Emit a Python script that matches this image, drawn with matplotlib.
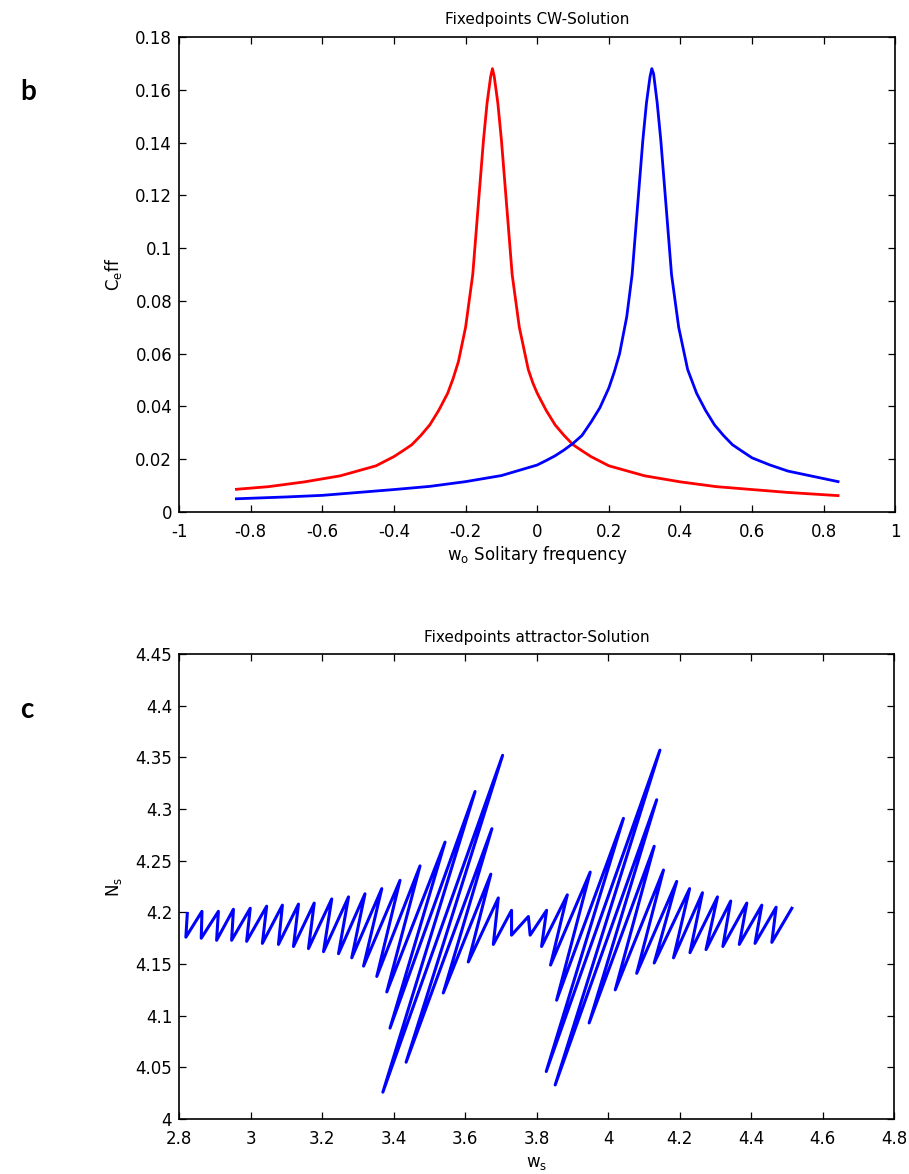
# %% Imports

import matplotlib
matplotlib.use("Agg")
import matplotlib.pyplot as plt


# %% Data

# panel b: CW fixed points, C_eff versus solitary frequency w_o
red_w = [-0.84, -0.75, -0.65, -0.55, -0.45, -0.40, -0.375, -0.35, -0.325, -0.30,
         -0.275, -0.25, -0.235, -0.22, -0.20, -0.18, -0.165, -0.15, -0.14, -0.13,
         -0.125, -0.12, -0.11, -0.10, -0.085, -0.07, -0.05, -0.025, -0.0125, 0.0,
         0.025, 0.05, 0.075, 0.10, 0.125, 0.15, 0.20, 0.30, 0.40, 0.50,
         0.60, 0.70, 0.84]
red_c = [0.0086, 0.0096, 0.0114, 0.0137, 0.0175, 0.0210, 0.0232, 0.0255, 0.0290, 0.0330,
         0.0385, 0.0450, 0.0505, 0.0570, 0.0700, 0.0900, 0.1156, 0.1410, 0.1550, 0.1650,
         0.1680, 0.1650, 0.1550, 0.1410, 0.1156, 0.0900, 0.0700, 0.0540, 0.0490, 0.0450,
         0.0385, 0.0330, 0.0290, 0.0255, 0.0232, 0.0210, 0.0175, 0.0137, 0.0114, 0.0096,
         0.0085, 0.0074, 0.0062]

blue_w = [-0.84, -0.70, -0.60, -0.50, -0.40, -0.30, -0.20, -0.10, 0.0, 0.025,
          0.05, 0.075, 0.10, 0.125, 0.15, 0.175, 0.20, 0.215, 0.23, 0.25,
          0.265, 0.28, 0.295, 0.305, 0.315, 0.32, 0.325, 0.335, 0.345, 0.36,
          0.375, 0.395, 0.42, 0.445, 0.47, 0.495, 0.52, 0.545, 0.57, 0.60,
          0.65, 0.70, 0.84]
blue_c = [0.0050, 0.0057, 0.0063, 0.0074, 0.0085, 0.0097, 0.0115, 0.0138, 0.0178, 0.0195,
          0.0213, 0.0235, 0.0260, 0.0290, 0.0340, 0.0395, 0.0470, 0.0530, 0.0600, 0.0740,
          0.0900, 0.1156, 0.1410, 0.1550, 0.1650, 0.1680, 0.1660, 0.1550, 0.1410, 0.1156,
          0.0900, 0.0700, 0.0540, 0.0450, 0.0385, 0.0330, 0.0290, 0.0255, 0.0232, 0.0205,
          0.0178, 0.0155, 0.0115]

# panel c: attractor, turning points of the trajectory in order (w_s, N_s)
attr_w = [2.823, 2.819, 2.864, 2.862, 2.910, 2.905, 2.952, 2.947, 2.999, 2.989,
          3.045, 3.033, 3.089, 3.078, 3.134, 3.120, 3.178, 3.162, 3.227, 3.204,
          3.274, 3.246, 3.320, 3.283, 3.367, 3.316, 3.418, 3.353, 3.474, 3.381,
          3.544, 3.390, 3.628, 3.370, 3.705, 3.435, 3.675, 3.539, 3.672, 3.609,
          3.693, 3.679, 3.730, 3.730, 3.777, 3.782, 3.828, 3.814, 3.886, 3.839,
          3.950, 3.856, 4.043, 3.827, 4.145, 3.852, 4.136, 3.947, 4.129, 4.020,
          4.155, 4.080, 4.192, 4.129, 4.228, 4.183, 4.264, 4.229, 4.306, 4.274,
          4.343, 4.321, 4.388, 4.367, 4.430, 4.411, 4.470, 4.458, 4.514]
attr_n = [4.199, 4.176, 4.201, 4.175, 4.201, 4.173, 4.203, 4.173, 4.204, 4.172,
          4.206, 4.170, 4.207, 4.169, 4.208, 4.167, 4.209, 4.165, 4.213, 4.162,
          4.215, 4.160, 4.218, 4.156, 4.223, 4.148, 4.231, 4.138, 4.245, 4.123,
          4.268, 4.088, 4.317, 4.026, 4.352, 4.055, 4.281, 4.122, 4.237, 4.152,
          4.214, 4.169, 4.202, 4.178, 4.196, 4.178, 4.202, 4.167, 4.217, 4.149,
          4.239, 4.115, 4.291, 4.046, 4.357, 4.033, 4.309, 4.093, 4.264, 4.125,
          4.241, 4.141, 4.230, 4.151, 4.223, 4.156, 4.219, 4.161, 4.215, 4.164,
          4.211, 4.167, 4.209, 4.169, 4.207, 4.170, 4.205, 4.171, 4.204]

# ticks
b_xticks = [-1, -0.8, -0.6, -0.4, -0.2, 0, 0.2, 0.4, 0.6, 0.8, 1]
b_xlabels = ["-1", "-0.8", "-0.6", "-0.4", "-0.2", "0", "0.2", "0.4", "0.6", "0.8", "1"]
b_yticks = [0, 0.02, 0.04, 0.06, 0.08, 0.1, 0.12, 0.14, 0.16, 0.18]
b_ylabels = ["0", "0.02", "0.04", "0.06", "0.08", "0.1", "0.12", "0.14", "0.16", "0.18"]
c_xticks = [2.8, 3.0, 3.2, 3.4, 3.6, 3.8, 4.0, 4.2, 4.4, 4.6, 4.8]
c_xlabels = ["2.8", "3", "3.2", "3.4", "3.6", "3.8", "4", "4.2", "4.4", "4.6", "4.8"]
c_yticks = [4.0, 4.05, 4.1, 4.15, 4.2, 4.25, 4.3, 4.35, 4.4, 4.45]
c_ylabels = ["4", "4.05", "4.1", "4.15", "4.2", "4.25", "4.3", "4.35", "4.4", "4.45"]


# %% Figure

plt.rcParams["font.family"] = ["DejaVu Sans"]
plt.rcParams["mathtext.default"] = "regular"

fig = plt.figure(figsize=(9.09, 11.74), dpi=100)
ax_b = fig.add_axes([0.197, 0.5639, 0.788, 0.4046])
ax_c = fig.add_axes([0.197, 0.0468, 0.7866, 0.3961])


def matlab_style(ax):
    ax.tick_params(direction="in", top=True, right=True, length=5, width=0.9,
                   labelsize=12, colors="black")
    ax.tick_params(axis="x", pad=8)
    ax.tick_params(axis="y", pad=5)
    for sp in ax.spines.values():
        sp.set_linewidth(1.2)


# panel b
ax_b.plot(red_w, red_c, color="red", linewidth=2.0)
ax_b.plot(blue_w, blue_c, color="blue", linewidth=2.0)
ax_b.set_xlim(-1, 1)
ax_b.set_ylim(0, 0.18)
ax_b.set_xticks(b_xticks)
ax_b.set_xticklabels(b_xlabels)
ax_b.set_yticks(b_yticks)
ax_b.set_yticklabels(b_ylabels)
matlab_style(ax_b)
ax_b.set_title("Fixedpoints CW-Solution", fontsize=11, pad=9)
ax_b.set_xlabel("$w_o$ Solitary frequency", fontsize=12, labelpad=2)
ax_b.set_ylabel("$C_eff$", fontsize=12, labelpad=8)

# panel c
ax_c.plot(attr_w, attr_n, color="blue", linewidth=2.2, solid_joinstyle="round")
ax_c.set_xlim(2.8, 4.8)
ax_c.set_ylim(4.0, 4.45)
ax_c.set_xticks(c_xticks)
ax_c.set_xticklabels(c_xlabels)
ax_c.set_yticks(c_yticks)
ax_c.set_yticklabels(c_ylabels)
matlab_style(ax_c)
ax_c.set_title("Fixedpoints attractor-Solution", fontsize=11, pad=9)
ax_c.set_xlabel("$w_s$", fontsize=12, labelpad=4)
ax_c.set_ylabel("$N_s$", fontsize=12, labelpad=8)

# panel letters
fig.text(0.022, 0.915, "b", fontsize=20, fontweight="bold", family=["Lato", "DejaVu Sans"])
fig.text(0.022, 0.388, "c", fontsize=20, fontweight="bold", family=["Lato", "DejaVu Sans"])

fig.savefig("out.png", dpi=100)
